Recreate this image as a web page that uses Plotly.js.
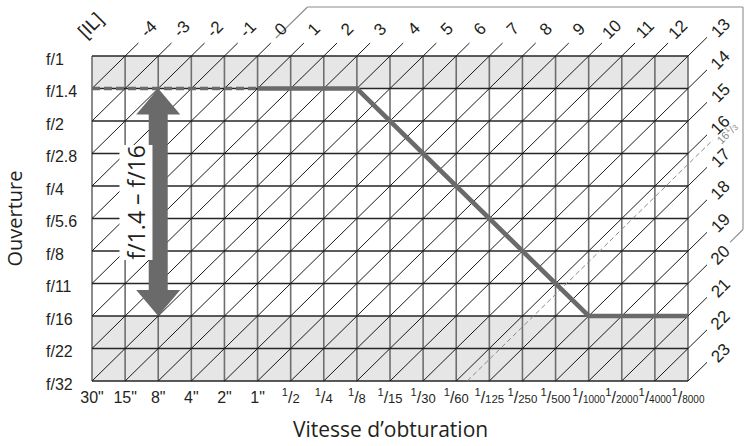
<!DOCTYPE html>
<html><head><meta charset="utf-8">
<script src="https://cdn.plot.ly/plotly-3.0.1.min.js"></script>
<style>body{margin:0;background:#fff}</style>
</head><body><div id="chart" style="width:748px;height:446px"></div>
<script>
// ---------------- data ----------------
const shutterSpeeds = ['30"','15"','8"','4"','2"','1"','1/2','1/4','1/8','1/15','1/30','1/60','1/125','1/250','1/500','1/1000','1/2000','1/4000','1/8000'];
const apertures = ['f/1','f/1.4','f/2','f/2.8','f/4','f/5.6','f/8','f/11','f/16','f/22','f/32'];
const evOrigin = -5;               // EV at 30" and f/1
const evLines = [-4,-3,-2,-1,0,1,2,3,4,5,6,7,8,9,10,11,12,13,14,15,16,17,18,19,20,21,22,23];
const evUnitLabel = '[IL]';
const evThird = 16 + 1/3;
const evThirdLabel = '16<sup>1</sup>/<span style="font-size:8px">3</span>';
const meteringRange = [0, 20];
const shadedRanges = [['f/1','f/1.4'], ['f/16','f/32']];
const programDashedShutter = ['30"','1"'];
const programDashedAperture = ['f/1.4','f/1.4'];
const programShutter = ['1"','1/8','1/1000','1/8000'];
const programAperture = ['f/1.4','f/1.4','f/16','f/16'];
const arrowShutter = '8"';
const arrowApertures = ['f/1.4','f/16'];
const arrowLabel = 'f/1.4 – f/16';
const xTitle = 'Vitesse d’obturation';
const yTitle = 'Ouverture';

// ---------------- geometry / style ----------------
const W = 748, H = 446;
const gridL = 92, gridR = 688, gridT = 56, gridB = 381;
const nC = shutterSpeeds.length - 1, nR = apertures.length - 1;
const pxC = (gridR - gridL) / nC, pxR = (gridB - gridT) / nR;
const dx = p => p / pxC, dy = p => p / pxR;
const ci = s => shutterSpeeds.indexOf(s);
const ri = a => apertures.indexOf(a);
const toPaperX = c => (gridL + c * pxC) / W;
const toPaperY = r => 1 - (gridT + r * pxR) / H;
const TXT = '#231f20', DARK = '#6a6a6a';
const tickFont = 'Liberation Sans, Arial, sans-serif';
const titleFont = 'Open Sans, Noto Sans, sans-serif';

function shutterTick(s) {
  if (!s.startsWith('1/')) return s;
  const den = s.slice(2);
  const fs = den.length >= 4 ? 10 : den.length === 3 ? 11.5 : 13;
  return '<sup>1</sup>/<span style="font-size:' + fs + 'px">' + den + '</span>';
}

const traces = [];
const shapes = [];
// shaded bands (main axes)
shadedRanges.forEach(([a0, a1]) => {
  const x0 = 0, x1 = nC, y0 = ri(a0), y1 = ri(a1);
  traces.push({x:[x0,x1,x1,x0,x0], y:[y0,y0,y1,y1,y0], xaxis:'x', yaxis:'y', mode:'lines',
    fill:'toself', fillcolor:'#e6e6e6', line:{width:0}, hoverinfo:'skip', showlegend:false});
});

// grid lines (overlay axes)
const hx = [], hy = [], vx = [], vy = [];
apertures.forEach((a, r) => { hx.push(0, nC, null); hy.push(r, r, null); });
shutterSpeeds.forEach((s, c) => { vx.push(c, c, null); vy.push(0, nR, null); });
traces.push({x:vx, y:vy, xaxis:'x2', yaxis:'y2', mode:'lines', line:{color:'#6e6e6e', width:1.6}, hoverinfo:'skip', showlegend:false});
traces.push({x:hx, y:hy, xaxis:'x2', yaxis:'y2', mode:'lines', line:{color:'#262626', width:1.4}, hoverinfo:'skip', showlegend:false});

// EV diagonals
const annotations = [];
function evEnds(ev) {
  const s = ev - evOrigin;
  const bl = s <= nR ? [0, s] : [s - nR, nR];
  const tr = s <= nC ? [s, 0] : [nC, s - nC];
  return {bl, tr, top: s < nC};
}
const dgx = [], dgy = [];
evLines.forEach(ev => {
  const {bl, tr, top} = evEnds(ev);
  const k = top ? dy(13) : dx(19);
  dgx.push(bl[0], tr[0] + k, null);
  dgy.push(bl[1], tr[1] - k, null);
  const off = top ? [dx(23), dy(27)] : [dx(32), dy(28)];
  annotations.push({xref:'x2', yref:'y2', x: tr[0] + off[0], y: tr[1] - off[1],
    text: String(ev), textangle:-45, showarrow:false, xanchor:'center', yanchor:'middle',
    font:{family:tickFont, size:17, color:TXT}});
});
traces.push({x:dgx, y:dgy, xaxis:'x2', yaxis:'y2', mode:'lines', line:{color:'#1a1a1a', width:1}, hoverinfo:'skip', showlegend:false});
annotations.push({xref:'x2', yref:'y2', x: dx(-2), y: -dy(31), text: evUnitLabel, textangle:-45,
  showarrow:false, font:{family:tickFont, size:19, color:TXT}});

// EV 16 1/3 dashed
{
  const {bl, tr} = evEnds(evThird);
  const k = dx(25);
  traces.push({x:[bl[0], tr[0] + k], y:[bl[1], tr[1] - k], xaxis:'x2', yaxis:'y2', mode:'lines',
    line:{color:'#8a8a8a', width:1, dash:'5px,3px'}, hoverinfo:'skip', showlegend:false});
  annotations.push({xref:'x2', yref:'y2', x: tr[0] + dx(39), y: tr[1] - dy(31), text: evThirdLabel,
    textangle:-45, showarrow:false, font:{family:tickFont, size:11, color:'#8a8a8a'}});
}

// metering range frame (along the EV 0 and EV 20 lines), paper-referenced so it is never clipped
{
  const a = evEnds(meteringRange[0]).tr, b = evEnds(meteringRange[1]).tr;
  const yTop = dy(7 - gridT), xRight = dx(743 - gridL);
  const sA = a[0] + a[1], sB = b[0] + b[1];
  const pts = [
    [sA + dy(18), -dy(18)],
    [sA - yTop, yTop],
    [xRight, yTop],
    [xRight, sB - xRight],
    [xRight - dx(13), sB - xRight + dx(13)]
  ];
  for (let i = 0; i < pts.length - 1; i++) {
    shapes.push({type:'line', xref:'paper', yref:'paper', layer:'above',
      x0: toPaperX(pts[i][0]), y0: toPaperY(pts[i][1]), x1: toPaperX(pts[i+1][0]), y1: toPaperY(pts[i+1][1]),
      line:{color:'#8c8c8c', width:1.1}});
  }
}

// program line
traces.push({x: programDashedShutter.map(ci), y: programDashedAperture.map(ri), xaxis:'x2', yaxis:'y2', mode:'lines',
  line:{color:DARK, width:3.4, dash:'8px,4px'}, hoverinfo:'skip', showlegend:false});
traces.push({x: programShutter.map(ci), y: programAperture.map(ri), xaxis:'x2', yaxis:'y2', mode:'lines',
  line:{color:DARK, width:4.6}, hoverinfo:'skip', showlegend:false});

// double arrow
{
  const cx = ci(arrowShutter), y0 = ri(arrowApertures[0]), y1 = ri(arrowApertures[1]);
  const hw = dx(9.5), hh = dx(22), hl = dy(26);
  const px = [cx, cx+hh, cx+hw, cx+hw, cx+hh, cx, cx-hh, cx-hw, cx-hw, cx-hh, cx];
  const py = [y0, y0+hl, y0+hl, y1-hl, y1-hl, y1, y1-hl, y1-hl, y0+hl, y0+hl, y0];
  traces.push({x:px, y:py, xaxis:'x2', yaxis:'y2', mode:'lines', fill:'toself', fillcolor:DARK,
    line:{width:0}, hoverinfo:'skip', showlegend:false});
  annotations.push({xref:'x2', yref:'y2', x: cx - dx(22), y: (y0 + y1) / 2, text: arrowLabel, textangle:-90,
    showarrow:false, bgcolor:'#ffffff', borderpad:0, font:{family:titleFont, size:23, color:TXT}});
}

// y tick labels (left aligned)
apertures.forEach((a, r) => annotations.push({xref:'paper', yref:'y', x: 44 / W, y: r, yshift:-3,
  xanchor:'left', yanchor:'middle', showarrow:false, text:a, font:{family:tickFont, size:16, color:TXT}}));

// axis titles
annotations.push({xref:'paper', yref:'paper', x:(gridL + gridR) / 2 / W, y: 1 - 429 / H, text:xTitle,
  showarrow:false, xanchor:'center', yanchor:'middle', font:{family:titleFont, size:21, color:TXT}});
annotations.push({xref:'paper', yref:'paper', x: 14 / W, y: 1 - (gridT + gridB) / 2 / H, text:yTitle, textangle:-90,
  showarrow:false, xanchor:'center', yanchor:'middle', font:{family:titleFont, size:20, color:TXT}});

const layout = {
  width:W, height:H, margin:{l:0, r:0, t:0, b:0},
  paper_bgcolor:'#ffffff', plot_bgcolor:'rgba(0,0,0,0)', showlegend:false,
  xaxis:{domain:[gridL / W, gridR / W], range:[0, nC], anchor:'y', showgrid:false, zeroline:false, showline:false,
    ticks:'', tickmode:'array', tickvals:shutterSpeeds.map((s, i) => i), ticktext:shutterSpeeds.map(shutterTick),
    tickangle:0, tickfont:{family:tickFont, size:16, color:TXT}, fixedrange:true, automargin:false, ticklabelstandoff:5},
  yaxis:{domain:[1 - gridB / H, 1 - gridT / H], range:[nR, 0], anchor:'x', showgrid:false, zeroline:false,
    showline:false, showticklabels:false, ticks:'', fixedrange:true},
  xaxis2:{domain:[0, 1], anchor:'y2', range:[-gridL / pxC, (W - gridL) / pxC], visible:false, fixedrange:true},
  yaxis2:{domain:[0, 1], anchor:'x2', range:[(H - gridT) / pxR, -gridT / pxR], visible:false, fixedrange:true},
  shapes, annotations
};
Plotly.newPlot('chart', traces, layout, {displayModeBar:false, staticPlot:true});
</script></body></html>
